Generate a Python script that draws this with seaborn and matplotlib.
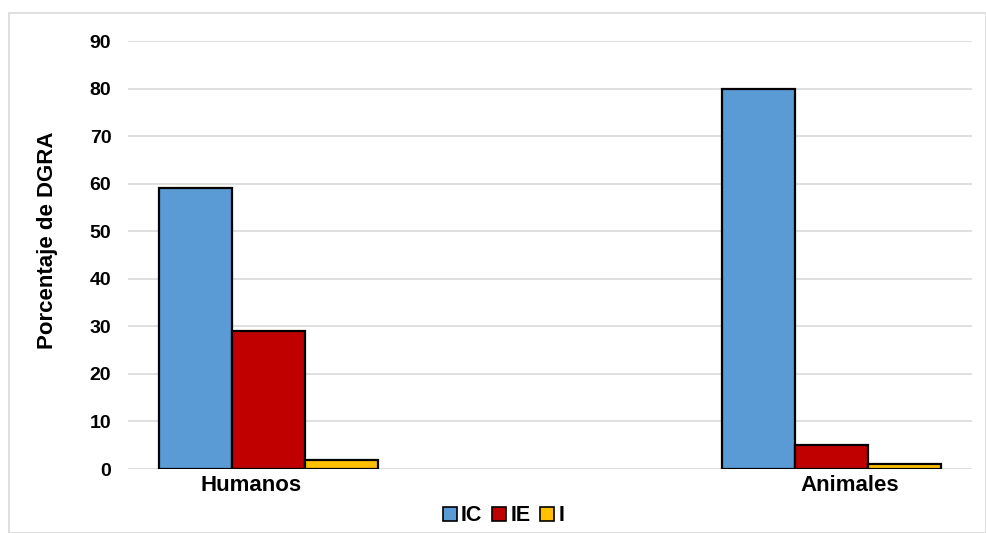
import pandas as pd
import matplotlib.pyplot as plt
import seaborn as sns
from matplotlib.patches import Rectangle, Patch

# Datos
grupos = ["Humanos", "Animales"]
tipos = ["IC", "IE", "I"]
valores_ic = [59, 80]
valores_ie = [29, 5]
valores_i = [2, 1]
colores = ["#5B9BD5", "#C00000", "#FFC000"]

df = pd.DataFrame({
    "grupo": grupos * 3,
    "tipo": ["IC"] * 2 + ["IE"] * 2 + ["I"] * 2,
    "valor": valores_ic + valores_ie + valores_i,
})

sns.set_style("white")
plt.rcParams["font.family"] = ["Liberation Sans", "DejaVu Sans"]
plt.rcParams["text.color"] = "black"
plt.rcParams["axes.labelcolor"] = "black"
plt.rcParams["xtick.color"] = "black"
plt.rcParams["ytick.color"] = "black"

fig = plt.figure(figsize=(9.87, 5.33), dpi=100)
ax = fig.add_axes([0.1297, 0.120, 0.855, 0.803])

sns.barplot(
    data=df, x="grupo", y="valor", hue="tipo",
    order=grupos, hue_order=tipos, palette=colores,
    width=0.39, edgecolor="black", linewidth=1.6,
    saturation=1, legend=False, ax=ax,
)

ax.set_xlim(-0.25, 1.25)
ax.set_ylim(0, 90)
ax.set_yticks(range(0, 91, 10))
ax.yaxis.grid(True, color="#D9D9D9", linewidth=1.2)
ax.set_axisbelow(True)
for s in ax.spines.values():
    s.set_visible(False)
ax.tick_params(axis="y", length=0, labelsize=14, pad=12)
for lab in ax.get_yticklabels():
    lab.set_fontweight("bold")
ax.set_xticks([-0.032, 1.032])
ax.set_xticklabels(grupos, fontsize=16, fontweight="bold")
ax.tick_params(axis="x", length=0, pad=4)
ax.set_xlabel("")
ax.set_ylabel("Porcentaje de DGRA", fontsize=16, fontweight="bold")
ax.yaxis.set_label_coords(-0.083, 0.535)

handles = [Patch(facecolor=c, edgecolor="black", linewidth=1.2) for c in colores]
fig.legend(handles, tipos, loc="center", bbox_to_anchor=(0.51, 0.032), ncol=3,
           frameon=False, handlelength=0.65, handleheight=0.65, handletextpad=0.2,
           columnspacing=0.45, prop={"weight": "bold", "size": 15.5})

# marco exterior
fig.patches.append(Rectangle((0.009, 0.0), 0.99, 0.975, transform=fig.transFigure,
                             fill=False, edgecolor="#D9D9D9", linewidth=1.2))

plt.savefig("out.png", dpi=100)
